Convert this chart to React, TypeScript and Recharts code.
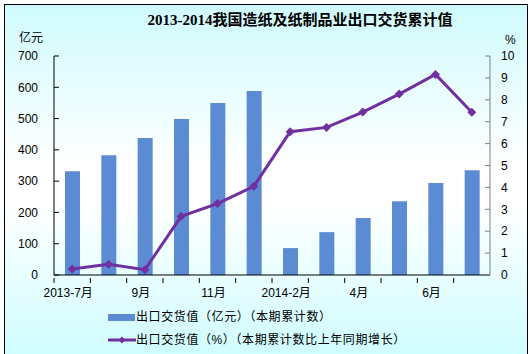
import { ComposedChart, Bar, Line, XAxis, YAxis } from 'recharts';

const months = ['2013-7月', '8月', '9月', '10月', '11月', '12月', '2014-2月', '3月', '4月', '5月', '6月', '7月'];
const exportValue = [332, 383, 438, 499, 550, 588, 86, 137, 182, 236, 294, 335];
const growthPct = [0.27, 0.49, 0.24, 2.68, 3.26, 4.05, 6.54, 6.74, 7.44, 8.26, 9.16, 7.43];
const leftTicks = [0, 100, 200, 300, 400, 500, 600, 700];
const rightTicks = [0, 1, 2, 3, 4, 5, 6, 7, 8, 9, 10];

const data = months.map((m, i) => ({ month: m, value: exportValue[i], pct: growthPct[i] }));

const BAR_COLOR = '#5a8bd3';
const LINE_COLOR = '#7030a0';
const FONT = '"Liberation Sans", "Noto Sans CJK SC", sans-serif';
const HALF_BAND = 436 / 12 / 2;

function MonthTick(props: any) {
  const { x, y, payload, index } = props;
  return (
    <g>
      <line x1={x - HALF_BAND} x2={x - HALF_BAND} y1={y} y2={y - 5} stroke="#000" />
      {index % 2 === 0 && (
        <text x={x - 4} y={y + 14} textAnchor="middle" fontSize={12} fill="#000" fontFamily={FONT}>
          {payload.value}
        </text>
      )}
    </g>
  );
}

function Diamond(props: any) {
  const { cx, cy } = props;
  if (cx == null || cy == null) return null;
  return <path d={`M${cx},${cy - 4.5}L${cx + 4.5},${cy}L${cx},${cy + 4.5}L${cx - 4.5},${cy}Z`} fill={LINE_COLOR} />;
}

export default function App() {
  return (
    <div style={{ position: 'absolute', left: 0, top: 0, width: 532, height: 354, background: '#fff', overflow: 'hidden' }}>
      <div
        style={{
          position: 'absolute', left: 4, top: 4, width: 522, height: 360,
          border: '1px solid #000',
          background: 'linear-gradient(to bottom, #cffbfd 0%, #ffffff 45%, #ffffff 55%, #ccfdff 100%)',
        }}
      />
      <div style={{ position: 'absolute', left: 0, top: 8, width: 600, textAlign: 'center', fontFamily: '"Liberation Serif", "Noto Sans CJK SC", serif', fontWeight: 'bold', fontSize: 15, color: '#000' }}>
        2013-2014我国造纸及纸制品业出口交货累计值
      </div>
      <div style={{ position: 'absolute', left: 19, top: 28, fontFamily: FONT, fontSize: 12 }}>亿元</div>
      <div style={{ position: 'absolute', left: 505, top: 33, fontFamily: FONT, fontSize: 12 }}>%</div>
      <ComposedChart
        width={532}
        height={354}
        data={data}
        margin={{ top: 56, right: 0, bottom: 49, left: 0 }}
        style={{ position: 'absolute', left: 0, top: 0 }}
      >
        <XAxis
          dataKey="month"
          interval={0}
          tick={<MonthTick />}
          tickLine={false}
          axisLine={{ stroke: '#000' }}
          height={30}
        />
        <YAxis
          yAxisId="left"
          domain={[0, 700]}
          ticks={leftTicks}
          width={54}
          tickSize={-5}
          tickMargin={21}
          axisLine={{ stroke: '#000' }}
          tickLine={{ stroke: '#000' }}
          tick={{ fill: '#000', fontSize: 12, fontFamily: FONT }}
        />
        <YAxis
          yAxisId="right"
          orientation="right"
          domain={[0, 10]}
          ticks={rightTicks}
          width={42}
          tickSize={-5}
          tickMargin={16}
          axisLine={{ stroke: '#808080' }}
          tickLine={{ stroke: '#808080' }}
          tick={{ fill: '#000', fontSize: 12, fontFamily: FONT, textAnchor: 'start' }}
        />
        <Bar yAxisId="left" dataKey="value" fill={BAR_COLOR} barSize={15} isAnimationActive={false} />
        <Line
          yAxisId="right"
          dataKey="pct"
          stroke={LINE_COLOR}
          strokeWidth={3}
          dot={<Diamond />}
          activeDot={false}
          type="linear"
          isAnimationActive={false}
        />
      </ComposedChart>
      <div style={{ position: 'absolute', left: 108, top: 309, fontFamily: FONT, fontSize: 12, letterSpacing: 0.6, color: '#000', lineHeight: '16px' }}>
        <div style={{ display: 'flex', alignItems: 'center', height: 16 }}>
          <span style={{ display: 'inline-block', width: 27, height: 7, background: BAR_COLOR, marginRight: 1 }} />
          出口交货值（亿元）（本期累计数）
        </div>
        <div style={{ display: 'flex', alignItems: 'center', height: 16, marginTop: 7 }}>
          <svg width={28} height={10} style={{ marginRight: 0 }}>
            <line x1={0} x2={28} y1={5} y2={5} stroke={LINE_COLOR} strokeWidth={3} />
            <path d="M14,1.5L17.5,5L14,8.5L10.5,5Z" fill={LINE_COLOR} />
          </svg>
          出口交货值（%）（本期累计数比上年同期增长）
        </div>
      </div>
    </div>
  );
}
